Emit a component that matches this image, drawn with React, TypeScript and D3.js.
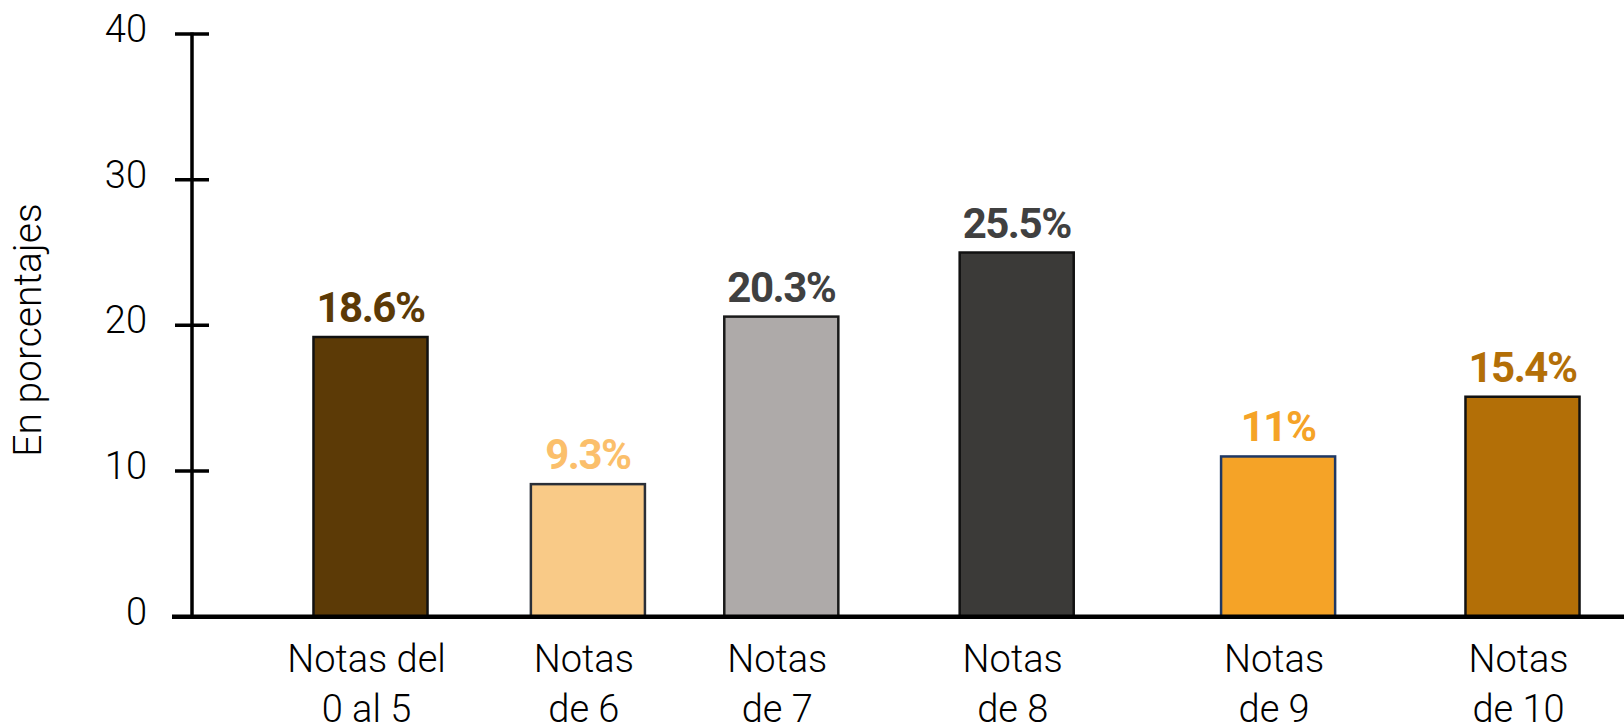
import React, { useEffect, useRef } from "react";
import * as d3 from "d3";

const categories = [
  ["Notas del", "0 al 5"],
  ["Notas", "de 6"],
  ["Notas", "de 7"],
  ["Notas", "de 8"],
  ["Notas", "de 9"],
  ["Notas", "de 10"],
];

// bar heights as drawn in the picture
const barValues = [19.2, 9.1, 20.6, 25.0, 11.0, 15.1];
const valueLabels = ["18.6%", "9.3%", "20.3%", "25.5%", "11%", "15.4%"];

const yTicks = [0, 10, 20, 30, 40];

const fills = ["#5c3a06", "#f9ca87", "#aeaaa9", "#3b3a38", "#f5a327", "#b36f07"];
const strokes = ["#111111", "#2a2f38", "#1a1a1a", "#111111", "#1f3864", "#111111"];
const labelColors = ["#5c3a06", "#fbbf6b", "#404040", "#404040", "#f5a327", "#b36f07"];

// the original bars are not evenly spaced
const barShift = [0, -13, -50, -45, -14, 0];

const WIDTH = 1624;
const HEIGHT = 726;

const App: React.FC = () => {
  const svgRef = useRef<SVGSVGElement | null>(null);

  useEffect(() => {
    const svg = d3.select(svgRef.current);
    svg.selectAll("*").remove();

    const font = "Roboto, 'Liberation Sans', sans-serif";
    const keys = categories.map((_, i) => String(i));

    const x = d3
      .scaleBand<string>()
      .domain(keys)
      .range([255.3, 1637.7])
      .paddingInner(0.505)
      .paddingOuter(0.2525);

    const y = d3.scaleLinear().domain([0, 40]).range([616.7, 34]);

    const barX = (i: number) => (x(String(i)) ?? 0) + barShift[i];
    const barMid = (i: number) => barX(i) + x.bandwidth() / 2;

    // bars
    svg
      .selectAll(".bar")
      .data(barValues)
      .enter()
      .append("rect")
      .attr("class", "bar")
      .attr("x", (_, i) => barX(i))
      .attr("y", (d) => y(d))
      .attr("width", x.bandwidth())
      .attr("height", (d) => y(0) - y(d))
      .attr("fill", (_, i) => fills[i])
      .attr("stroke", (_, i) => strokes[i])
      .attr("stroke-width", 2.5);

    // value labels
    svg
      .selectAll(".value")
      .data(barValues)
      .enter()
      .append("text")
      .attr("class", "value")
      .attr("x", (_, i) => barMid(i))
      .attr("y", (d) => y(d) - 15)
      .attr("text-anchor", "middle")
      .style("font-family", font)
      .style("font-weight", 700)
      .style("font-size", "42px")
      .style("letter-spacing", "-1.5px")
      .attr("fill", (_, i) => labelColors[i])
      .text((_, i) => valueLabels[i]);

    // y axis
    const axis = svg.append("g");
    axis
      .append("line")
      .attr("x1", 192)
      .attr("x2", 192)
      .attr("y1", y(40) - 1.5)
      .attr("y2", y(0))
      .attr("stroke", "#000")
      .attr("stroke-width", 3.5);

    axis
      .selectAll(".tick")
      .data(yTicks)
      .enter()
      .append("line")
      .attr("x1", 175)
      .attr("x2", 209)
      .attr("y1", (d) => y(d))
      .attr("y2", (d) => y(d))
      .attr("stroke", "#000")
      .attr("stroke-width", 3.5);

    axis
      .selectAll(".tlabel")
      .data(yTicks)
      .enter()
      .append("text")
      .attr("x", 147)
      .attr("y", (d) => y(d) - 2)
      .attr("text-anchor", "end")
      .attr("dominant-baseline", "middle")
      .style("font-family", font)
      .style("font-weight", 300)
      .style("font-size", "38px")
      .attr("fill", "#000")
      .text((d) => d);

    // baseline
    svg
      .append("line")
      .attr("x1", 172)
      .attr("x2", WIDTH)
      .attr("y1", y(0))
      .attr("y2", y(0))
      .attr("stroke", "#000")
      .attr("stroke-width", 4.5);

    // category labels
    const cat = svg
      .selectAll(".cat")
      .data(categories)
      .enter()
      .append("text")
      .attr("class", "cat")
      .attr("text-anchor", "middle")
      .style("font-family", font)
      .style("font-weight", 300)
      .style("font-size", "38px")
      .attr("fill", "#000");

    cat
      .selectAll("tspan")
      .data((d, i) => d.map((line) => ({ line, i })))
      .enter()
      .append("tspan")
      .attr("x", (d) => barMid(d.i) - 4)
      .attr("y", (_, j) => 672 + j * 50)
      .text((d) => d.line);

    // y title
    svg
      .append("text")
      .attr("transform", "translate(41,330) rotate(-90)")
      .attr("text-anchor", "middle")
      .style("font-family", font)
      .style("font-weight", 300)
      .style("font-size", "39px")
      .attr("fill", "#000")
      .text("En porcentajes");
  }, []);

  return (
    <svg
      ref={svgRef}
      width={WIDTH}
      height={HEIGHT}
      style={{ position: "absolute", left: 0, top: 0, background: "#fff" }}
    ></svg>
  );
};

export default App;
